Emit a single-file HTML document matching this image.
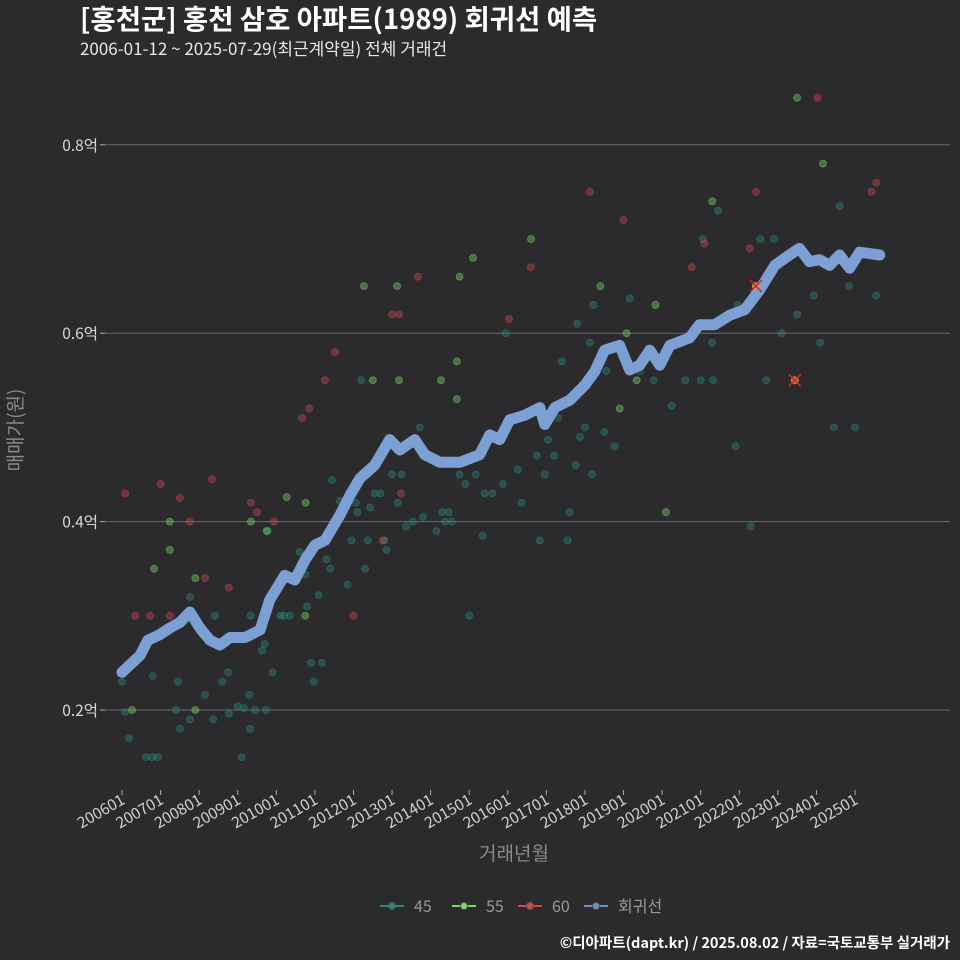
<!DOCTYPE html>
<html><head><meta charset="utf-8"><style>
body{margin:0;background:#2b2b2d;}
svg{display:block;font-family:"Liberation Sans","Noto Sans CJK KR",sans-serif;}
</style></head><body>
<svg id="chart" width="960" height="960">
<rect width="960" height="960" fill="#2b2b2d"/>
<text x="80" y="29" fill="#ffffff" font-size="27.5" font-weight="bold" font-family="Noto Sans CJK KR, sans-serif">[홍천군] 홍천 삼호 아파트(1989) 회귀선 예측</text>
<text x="80" y="55" fill="#e8e8e8" font-size="17" font-family="Noto Sans CJK KR, sans-serif">2006-01-12 ~ 2025-07-29(최근계약일) 전체 거래건</text>
<g id="grid"></g>
<g id="pts"></g>
<g id="line"></g>
<g id="marks"></g>
<g id="xaxis"></g>
<text x="0" y="0" transform="translate(22,430) rotate(-90)" text-anchor="middle" fill="#8a8a8a" font-size="19" font-family="Noto Sans CJK KR, sans-serif">매매가(원)</text>
<text x="514" y="860" text-anchor="middle" fill="#8a8a8a" font-size="19" font-family="Noto Sans CJK KR, sans-serif">거래년월</text>
<g id="legend"></g>
<text x="950" y="948" text-anchor="end" fill="#ffffff" font-size="14.5" font-weight="bold" font-family="Noto Sans CJK KR, sans-serif">©디아파트(dapt.kr) / 2025.08.02 / 자료=국토교통부 실거래가</text>
</svg>
<script>
const yTicks=[0.2,0.4,0.6,0.8];
const yTickLabels=["0.2억","0.4억","0.6억","0.8억"];
const xTickYears=[2006,2007,2008,2009,2010,2011,2012,2013,2014,2015,2016,2017,2018,2019,2020,2021,2022,2023,2024,2025];
const xTickLabels=["200601","200701","200801","200901","201001","201101","201201","201301","201401","201501","201601","201701","201801","201901","202001","202101","202201","202301","202401","202501"];
const t45=[2006.0,2006.08,2006.18,2006.62,2006.78,2006.93,2006.8,2007.4,2007.45,2007.5,2007.76,2007.76,2008.15,2008.36,2008.41,2008.6,2008.75,2008.77,2009.0,2009.1,2009.16,2009.3,2009.32,2009.34,2009.45,2009.63,2009.7,2009.73,2009.78,2009.9,2010.1,2010.2,2010.35,2010.5,2010.6,2010.75,2010.8,2010.9,2010.97,2011.1,2011.18,2011.3,2011.4,2011.44,2011.65,2011.85,2011.95,2012.06,2012.1,2012.2,2012.3,2012.37,2012.43,2012.55,2012.7,2012.8,2012.85,2013.0,2013.15,2013.25,2013.36,2013.54,2013.72,2013.8,2014.15,2014.3,2014.37,2014.47,2014.55,2014.75,2014.9,2015.0,2015.17,2015.35,2015.4,2015.6,2015.87,2015.95,2016.26,2016.36,2016.75,2016.83,2016.96,2017.04,2017.2,2017.3,2017.4,2017.55,2017.6,2017.76,2017.8,2017.87,2018.0,2018.13,2018.18,2018.22,2018.55,2018.5,2018.77,2019.16,2019.42,2019.78,2020.25,2020.6,2021.0,2021.06,2021.3,2021.32,2021.45,2021.9,2021.96,2022.3,2022.55,2022.7,2022.9,2023.1,2023.5,2023.93,2024.1,2024.45,2024.6,2024.85,2025.0,2025.55];
const v45=[0.23,0.198,0.17,0.15,0.15,0.15,0.236,0.2,0.23,0.18,0.19,0.32,0.216,0.19,0.3,0.23,0.24,0.196,0.204,0.15,0.202,0.216,0.18,0.3,0.2,0.263,0.27,0.2,0.39,0.24,0.3,0.3,0.3,0.344,0.368,0.344,0.31,0.25,0.23,0.322,0.25,0.36,0.35,0.444,0.422,0.333,0.38,0.42,0.41,0.55,0.35,0.38,0.415,0.43,0.43,0.38,0.37,0.45,0.42,0.45,0.395,0.4,0.5,0.405,0.39,0.41,0.4,0.41,0.4,0.45,0.44,0.3,0.45,0.385,0.43,0.43,0.44,0.6,0.455,0.42,0.47,0.38,0.45,0.487,0.47,0.51,0.57,0.38,0.41,0.46,0.61,0.49,0.5,0.59,0.45,0.63,0.56,0.495,0.48,0.637,0.56,0.55,0.523,0.55,0.55,0.7,0.59,0.55,0.73,0.48,0.63,0.395,0.7,0.55,0.7,0.6,0.62,0.64,0.59,0.5,0.735,0.65,0.5,0.64];
const t55=[2006.26,2006.83,2007.24,2007.24,2007.9,2007.9,2009.34,2009.75,2010.27,2010.76,2010.75,2012.27,2012.5,2013.13,2013.18,2014.27,2014.68,2014.68,2014.75,2015.1,2016.6,2018.4,2018.9,2019.08,2019.34,2019.83,2020.1,2021.3,2022.43,2023.5,2024.17];
const v55=[0.2,0.35,0.4,0.37,0.34,0.2,0.4,0.39,0.426,0.42,0.3,0.65,0.55,0.65,0.55,0.55,0.57,0.53,0.66,0.68,0.7,0.65,0.52,0.6,0.55,0.63,0.41,0.74,0.65,0.85,0.78];
const t60=[2006.08,2006.34,2006.73,2007.0,2007.24,2007.5,2007.76,2008.15,2008.33,2008.77,2009.34,2009.5,2009.94,2010.67,2010.85,2011.26,2011.52,2012.0,2012.76,2013.0,2013.18,2013.23,2013.67,2016.03,2016.6,2018.13,2019.0,2020.77,2021.1,2022.27,2022.43,2022.43,2023.44,2024.03,2025.43,2025.55];
const v60=[0.43,0.3,0.3,0.44,0.3,0.425,0.4,0.34,0.445,0.33,0.42,0.41,0.4,0.51,0.52,0.55,0.58,0.3,0.38,0.62,0.62,0.43,0.66,0.615,0.67,0.75,0.72,0.67,0.695,0.69,0.75,0.65,0.55,0.85,0.75,0.76];
const outlierT=[2022.43,2023.44];
const outlierV=[0.65,0.55];
const regT=[2006.0,2006.47,2006.67,2006.98,2007.24,2007.5,2007.76,2008.02,2008.28,2008.54,2008.8,2009.19,2009.58,2009.83,2010.22,2010.48,2010.74,2011.0,2011.26,2011.65,2011.91,2012.17,2012.55,2012.94,2013.2,2013.59,2013.85,2014.24,2014.76,2015.27,2015.53,2015.79,2016.05,2016.44,2016.83,2016.96,2017.22,2017.61,2018.0,2018.25,2018.51,2018.9,2019.16,2019.42,2019.68,2019.94,2020.2,2020.71,2020.97,2021.36,2021.75,2022.14,2022.53,2022.92,2023.3,2023.56,2023.82,2024.08,2024.34,2024.6,2024.86,2025.12,2025.64];
const regV=[0.24,0.258,0.274,0.28,0.287,0.293,0.304,0.287,0.274,0.269,0.277,0.277,0.285,0.317,0.343,0.338,0.359,0.375,0.38,0.407,0.428,0.446,0.46,0.487,0.476,0.487,0.471,0.463,0.463,0.471,0.492,0.487,0.508,0.513,0.521,0.503,0.521,0.529,0.545,0.559,0.582,0.587,0.561,0.566,0.582,0.566,0.587,0.595,0.609,0.609,0.619,0.625,0.646,0.672,0.683,0.69,0.676,0.678,0.672,0.683,0.669,0.686,0.683];

const NS="http://www.w3.org/2000/svg";
const X=t=>122+(t-2006)*(855-122)/19;
const Y=v=>710-(v-0.2)*942;
function mk(tag,attrs,parent){const e=document.createElementNS(NS,tag);for(const k in attrs)e.setAttribute(k,attrs[k]);parent.appendChild(e);return e;}
const grid=document.getElementById('grid');
yTicks.forEach((v,i)=>{
  const l=mk('line',{x1:105,x2:950,y1:Y(v),y2:Y(v),stroke:'#6a6a6a','stroke-width':1},grid);
  
  
  const tk=mk('line',{x1:100,x2:105,y1:Y(v),y2:Y(v),stroke:'#aaa'},grid);
  
  
  const t=mk('text',{x:98,y:Y(v)+6,'text-anchor':'end',fill:'#d8d8d8','font-size':15.5,'font-family':'Noto Sans CJK KR, sans-serif'},grid);
  t.textContent=yTickLabels[i];
  
  
});
const xa=document.getElementById('xaxis');
xTickYears.forEach((y,i)=>{
  const x=X(y);
  const tk=mk('line',{x1:x,x2:x,y1:790,y2:795,stroke:'#aaa'},xa);
  
  
  const t=mk('text',{x:x+4,y:803,'text-anchor':'end',fill:'#d0d0d0','font-size':15.5,'font-family':'Noto Sans CJK KR, sans-serif',transform:`rotate(-30 ${x+4} 803)`},xa);
  t.textContent=xTickLabels[i];
  
  
});
const pts=document.getElementById('pts');
function drawPts(ts,vs,col,name){
  ts.forEach((t,i)=>{
    const c=mk('circle',{cx:X(t),cy:Y(vs[i]),r:3.5,fill:col,'fill-opacity':0.4,stroke:col,'stroke-opacity':0.5,'stroke-width':0.8},pts);
    
    
  });
}
drawPts(t45,v45,'#2a8a7a','point-45');
drawPts(t55,v55,'#7fd86a','point-55');
drawPts(t60,v60,'#d0474f','point-60');
const lg=document.getElementById('line');
const path=mk('path',{d:regT.map((t,i)=>(i?'L':'M')+X(t).toFixed(1)+' '+Y(regV[i]).toFixed(1)).join(''),fill:'none',stroke:'#7c9fd4','stroke-width':11,'stroke-linejoin':'round','stroke-linecap':'round'},lg);


const mg=document.getElementById('marks');
outlierT.forEach((t,i)=>{
  const x=X(t),y=Y(outlierV[i]);
  const g=mk('g',{},mg);
  
  
  mk('circle',{cx:x,cy:y,r:4,fill:'#c8a040','fill-opacity':0.7},g);
  mk('path',{d:`M${x-6} ${y-6}L${x+6} ${y+6}M${x+6} ${y-6}L${x-6} ${y+6}`,stroke:'#e02020','stroke-width':1.5},g);
});
const legItems=[["45","#2a8a7a",380],["55","#7fd86a",452],["60","#d0474f",518],["회귀선","#6f8fc4",584]];
const leg=document.getElementById('legend');
legItems.forEach(([lab,col,x])=>{
  const g=mk('g',{},leg);
  
  
  mk('line',{x1:x,x2:x+24,y1:906,y2:906,stroke:col,'stroke-width':2},g);
  mk('circle',{cx:x+12,cy:906,r:3.5,fill:col,stroke:'#555'},g);
  const t=mk('text',{x:x+34,y:912,fill:'#9a9a9a','font-size':16,'font-family':'Noto Sans CJK KR, sans-serif'},g);
  t.textContent=lab;
});
</script>
</body></html>
